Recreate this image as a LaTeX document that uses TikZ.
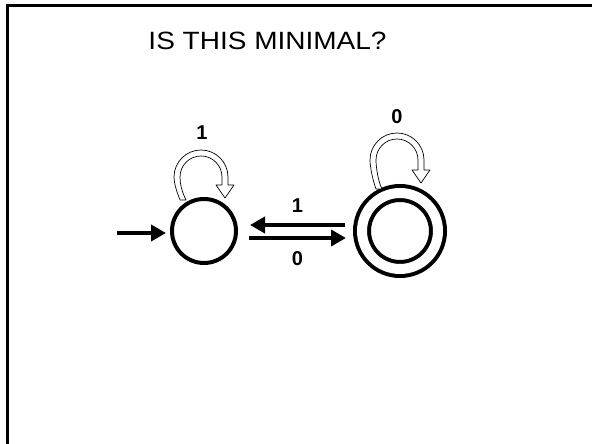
\documentclass[tikz,border=0pt]{standalone}
\usepackage{fontspec}
\setmainfont{Liberation Sans}
\usetikzlibrary{arrows.meta}
\tikzset{
  state/.style={circle, draw, line width=4pt, inner sep=0pt, minimum size=64pt},
  accstate/.style={circle, draw, line width=4pt, double, double distance=10pt, inner sep=0pt, minimum size=76pt},
  arr/.style={line width=4pt, -{Triangle[length=15pt,width=16pt]}},
  loopline/.style={draw, fill=white, line width=0.7pt, line join=round},
  lbl/.style={inner sep=0pt, font=\fontsize{20}{20}\selectfont\bfseries},
  frameline/.style={line width=3pt}
}
\newcommand\hollowloop[4]{%
  \begin{scope}[shift={(#1,#2)}]
    \draw[loopline] (-21,-#3) .. controls (-24,{-#3+8}) and (-27,-34) .. (-27,-27)
      arc[start angle=180, end angle=0, radius=27]
      -- (27,-#4) -- (33,-#4) -- (24,{-#4-13}) -- (15,-#4) -- (21,-#4) -- (21,-27)
      arc[start angle=0, end angle=180, radius=21]
      .. controls (-21,-34) and (-19,{-#3+8}) .. (-15,-#3) -- cycle;
  \end{scope}}
\begin{document}
\begin{tikzpicture}[x=1pt,y=1pt]
  \useasboundingbox (0,0) rectangle (592,444);
  % frame (left and top edges)
  \coordinate (fbl) at (7.5,0);
  \coordinate (ftl) at (7.5,438.5);
  \coordinate (ftr) at (592,438.5);
  \draw[frameline] (fbl) -- (ftl) -- (ftr);
  % title
  \node[inner sep=0pt] (title) at (267.5,403) {\scalebox{1.12}[1]{\fontsize{25}{25}\selectfont IS THIS MINIMAL?}};
  % states
  \node[state] (q0) at (204,213) {};
  \node[accstate] (q1) at (400,213) {};
  % self loops
  \hollowloop{201}{294}{50}{35}
  \hollowloop{397}{311}{56}{37}
  \node[lbl] (l0) at (202,311) {1};
  \node[lbl] (l1) at (397,327) {0};
  % initial arrow
  \coordinate (start) at (117,211);
  \draw[arr, shorten >=4pt] (start) -- (start -| q0.west);
  % transitions
  \draw[arr] ([shift={(-55,6)}]q1.center) -- node[lbl, above=10pt] (t1) {1} ([shift={(46,6)}]q0.center);
  \draw[arr] ([shift={(45,-7)}]q0.center) -- node[lbl, below=12pt] (t0) {0} ([shift={(-54,-7)}]q1.center);
\end{tikzpicture}
\end{document}
